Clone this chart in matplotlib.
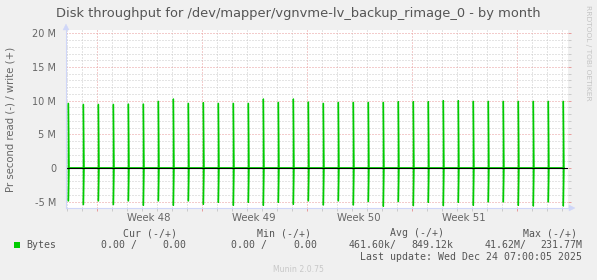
import matplotlib
matplotlib.use("Agg")
import matplotlib.pyplot as plt
from matplotlib.lines import Line2D
from matplotlib.patches import Polygon, Rectangle
from matplotlib.ticker import MultipleLocator, FixedLocator, FuncFormatter
import matplotlib.transforms as mtransforms

# ---------------- data ----------------
# days relative to Monday Dec 15 2025 00:00
first_spike_day = -22.89
# write (+) peaks, bytes/s (in M)
write_peaks_M = [9.6, 9.45, 9.45, 9.45, 9.5, 9.5, 9.9, 10.25, 9.6,
                 9.7, 9.6, 9.6, 9.6, 10.25, 9.75, 10.25, 9.8, 9.6, 9.75, 9.75, 9.75, 9.75, 9.85,
                 9.85, 9.85, 10.0, 10.0, 9.9, 9.9, 9.9, 9.9, 9.9, 9.9, 9.9]
# read (-) troughs, bytes/s (in M)
read_peaks_M = [4.9, 5.45, 4.9, 5.45, 4.9, 5.55, 4.9, 5.55, 4.9,
                5.4, 5.1, 5.55, 5.1, 5.55, 5.1, 5.4, 4.9, 5.5, 4.9, 5.5, 5.0, 5.7, 5.0,
                5.6, 5.1, 5.6, 5.1, 5.55, 5.05, 5.05, 5.55, 5.65, 5.05, 5.65]
week_labels = ["Week 48", "Week 49", "Week 50", "Week 51"]
week_starts = [-21, -14, -7, 0, 7]
y_ticks = [-5e6, 0, 5e6, 10e6, 15e6, 20e6]
legend_name = "Bytes"
cur_vals = ("0.00", "0.00")
min_vals = ("0.00", "0.00")
avg_vals = ("461.60k", "849.12k")
max_vals = ("41.62M", "231.77M")
last_update = "Last update: Wed Dec 24 07:00:05 2025"
title = "Disk throughput for /dev/mapper/vgnvme-lv_backup_rimage_0 - by month"
step = 1.0 / 24

# ---------------- figure ----------------
W, H = 597, 280
fig = plt.figure(figsize=(W / 100, H / 100), dpi=100, facecolor="#F0F0F0")
L, R, T, B = 66, 568, 30, 208
ax = fig.add_axes([L / W, 1 - B / H, (R - L) / W, (B - T) / H])
ax.set_facecolor("white")
ax.set_xlim(-23.05, 10.42)
ax.set_ylim(-5.94e6, 20.49e6)
for s in ax.spines.values():
    s.set_visible(False)

FONT = "#666666"
GREEN = "#00CC00"
MGRID = "#E89A9A"
GRID = "#CACACA"

# grid
ax.yaxis.set_major_locator(FixedLocator(y_ticks))
ax.yaxis.set_minor_locator(MultipleLocator(1e6))
ax.xaxis.set_major_locator(FixedLocator(week_starts))
ax.xaxis.set_minor_locator(MultipleLocator(1))
ax.grid(which="minor", color=GRID, linestyle=(0, (1, 2)), linewidth=0.72)
ax.grid(which="major", color=MGRID, linestyle=(0, (1, 2)), linewidth=0.72)
ax.set_axisbelow(True)

def yfmt(v, pos):
    if v == 0:
        return "0"
    return "%d M" % round(v / 1e6)
ax.yaxis.set_major_formatter(FuncFormatter(yfmt))
ax.tick_params(axis="y", which="both", left=False, right=True, length=2, width=0.7,
               labelsize=7, labelcolor=FONT, pad=5, labelleft=True)
ax.tick_params(axis="y", which="major", colors=MGRID, labelcolor=FONT)
ax.tick_params(axis="y", which="minor", colors=GRID)
ax.tick_params(axis="x", which="both", bottom=True, length=2, width=0.7, labelbottom=False)
ax.tick_params(axis="x", which="major", colors=MGRID)
ax.tick_params(axis="x", which="minor", colors=GRID)

# data lines
xs_w, ys_w, xs_r, ys_r = [], [], [], []
for k, (wp, rp) in enumerate(zip(write_peaks_M, read_peaks_M)):
    t = first_spike_day + k
    xs_w += [t, t, t + step]
    ys_w += [0, wp * 1e6, 0]
    xs_r += [t, t, t + step]
    ys_r += [0, -rp * 1e6, 0]
ax.plot(xs_w, ys_w, color=GREEN, linewidth=1.0, zorder=3)
ax.plot(xs_r, ys_r, color=GREEN, linewidth=1.0, zorder=3)
ax.axhline(0, color="black", linewidth=0.8, zorder=4)

# week labels
trans = mtransforms.blended_transform_factory(ax.transData, fig.transFigure)
for i, lab in enumerate(week_labels):
    xm = (week_starts[i] + week_starts[i + 1]) / 2
    ax.text(xm, 1 - 218 / H, lab, transform=trans, ha="center", va="center",
            fontsize=7.3, color=FONT)

# axes lines with arrows
AX = "#CFD6F8"
def px(x, y):
    return (x / W, 1 - y / H)
fig.add_artist(Line2D([px(L, B)[0], px(572, B)[0]], [px(L, B)[1], px(L, B)[1]],
                      color=AX, linewidth=0.8))
fig.add_artist(Line2D([px(L, B)[0], px(L, B)[0]], [px(L, B)[1], px(L, 27)[1]],
                      color=AX, linewidth=0.8))
fig.add_artist(Polygon([px(569, B - 3), px(575, B), px(569, B + 3)], closed=True,
                       facecolor=AX, edgecolor=AX, linewidth=0.3, transform=fig.transFigure))
fig.add_artist(Polygon([px(L - 3, 30), px(L, 24), px(L + 3, 30)], closed=True,
                       facecolor=AX, edgecolor=AX, linewidth=0.3, transform=fig.transFigure))

# title & labels
fig.text(298.5 / W, 1 - 13 / H, title, ha="center", va="center", fontsize=9.4, color="#555555")
fig.text(11 / W, 1 - 119 / H, "Pr second read (-) / write (+)", rotation=90,
         ha="center", va="center", fontsize=7.3, color=FONT)
fig.text(588 / W, 1 - 5 / H, "RRDTOOL / TOBI OETIKER", rotation=270,
         ha="center", va="top", fontsize=5.4, color="#C4C4C4")

# legend
MONO = "DejaVu Sans Mono"
LC = "#555555"
FS = 7.1
def lt(x, y, s, ha="left"):
    fig.text(x / W, 1 - y / H, s, ha=ha, va="center", fontsize=FS, family=MONO, color=LC)

y1, y2, y3 = 233, 245, 257
lt(123, y1, "Cur (-/+)")
lt(257, y1, "Min (-/+)")
lt(390, y1, "Avg (-/+)")
lt(523, y1, "Max (-/+)")
fig.add_artist(Rectangle(px(14, y2 + 3), 6 / W, 6 / H, transform=fig.transFigure,
                         facecolor=GREEN, edgecolor=GREEN, linewidth=0))
lt(26, y2, legend_name)
lt(101, y2, cur_vals[0] + " /")
lt(186, y2, cur_vals[1], ha="right")
lt(231, y2, min_vals[0] + " /")
lt(317, y2, min_vals[1], ha="right")
lt(349, y2, avg_vals[0] + "/")
lt(453, y2, avg_vals[1], ha="right")
lt(485, y2, max_vals[0] + "/")
lt(582, y2, max_vals[1], ha="right")
lt(582, y3, last_update, ha="right")
fig.text(298.5 / W, 1 - 269 / H, "Munin 2.0.75", ha="center", va="center",
         fontsize=5.6, color="#C8C8C8")

fig.savefig("out.png", dpi=100, facecolor=fig.get_facecolor())
